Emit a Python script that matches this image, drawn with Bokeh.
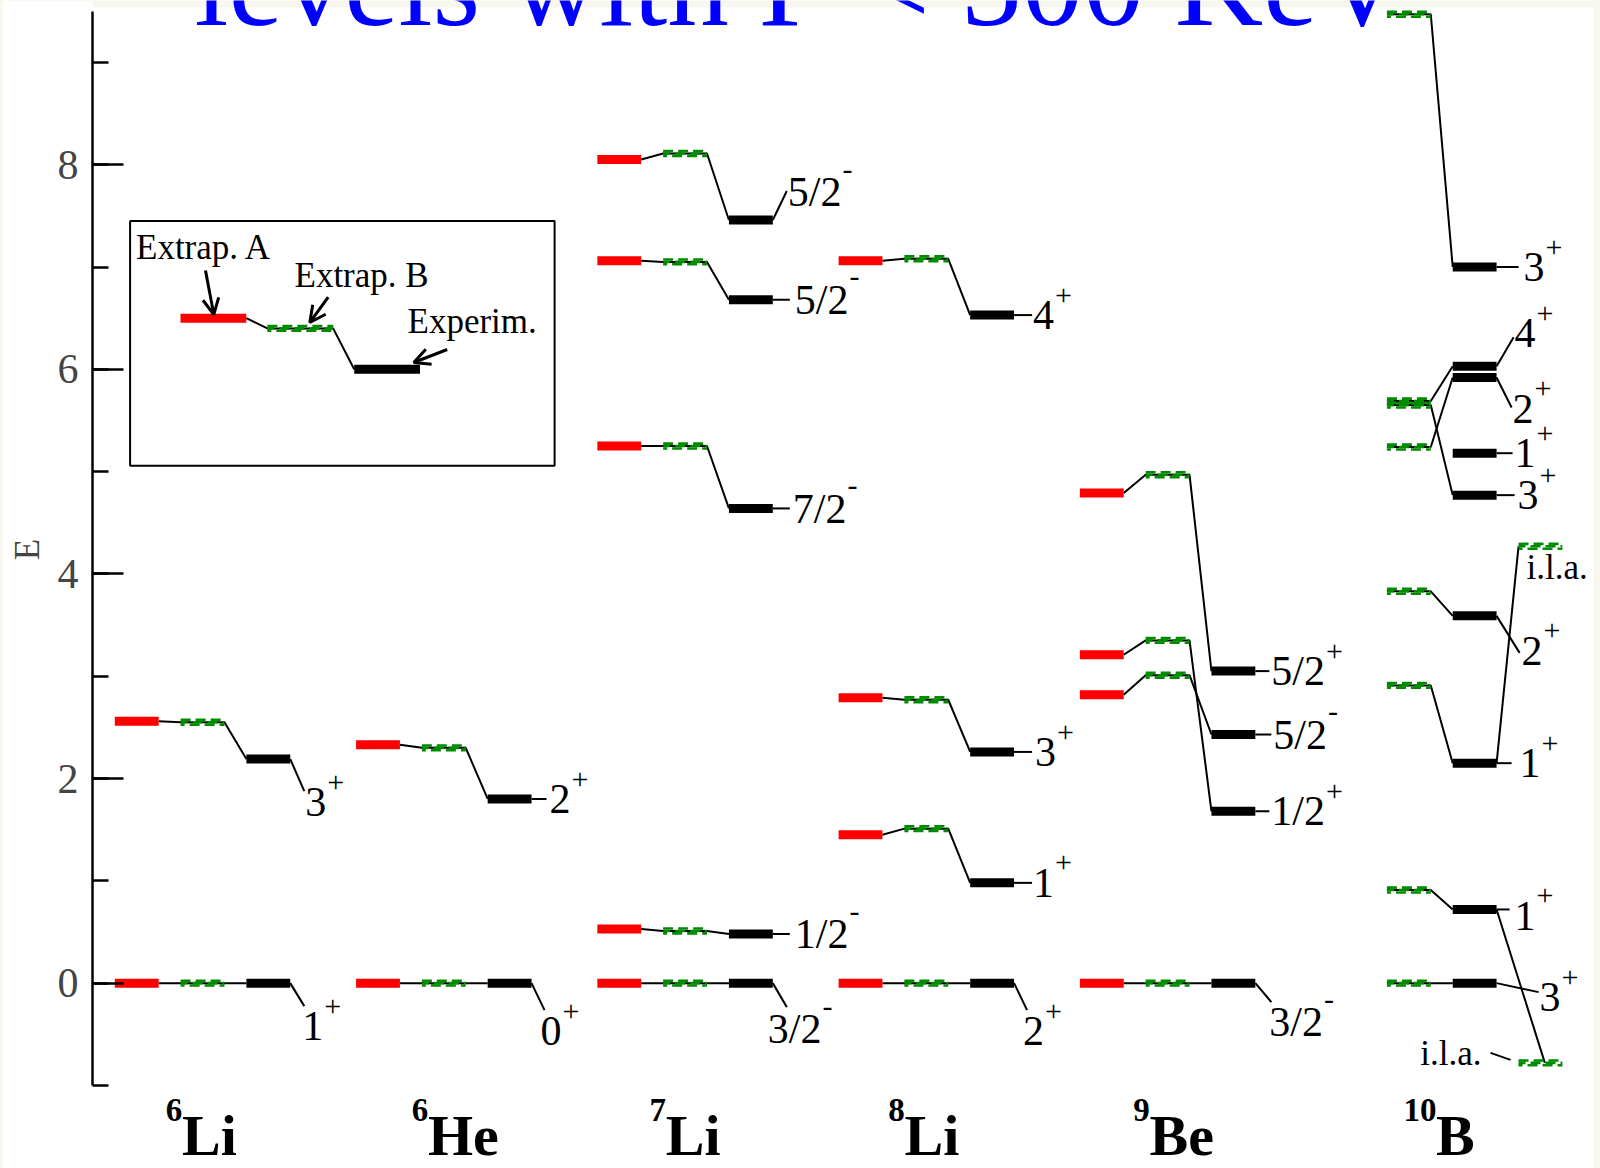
from bokeh.plotting import figure
from bokeh.models import Range1d, SingleIntervalTicker, Arrow, OpenHead
from bokeh.core.properties import value
from bokeh.layouts import column
from bokeh.embed import file_html
from bokeh.resources import INLINE

# ---------------- data (energies) ----------------
mass_numbers = ["6", "6", "7", "8", "9", "10"]
elements = ["Li", "He", "Li", "Li", "Be", "B"]

li6_extrap_a = [0.00, 2.56]
li6_extrap_b = [0.00, 2.55]
li6_exp = [0.00, 2.19]
li6_spin = ["1", "3"]
li6_parity = ["+", "+"]

he6_extrap_a = [0.00, 2.33]
he6_extrap_b = [0.00, 2.30]
he6_exp = [0.00, 1.80]
he6_spin = ["0", "2"]
he6_parity = ["+", "+"]

li7_extrap_a = [0.00, 0.53, 5.25, 7.06, 8.05]
li7_extrap_b = [0.00, 0.51, 5.25, 7.05, 8.11]
li7_exp = [0.00, 0.48, 4.64, 6.68, 7.46]
li7_spin = ["3/2", "1/2", "7/2", "5/2", "5/2"]
li7_parity = ["-", "-", "-", "-", "-"]

li8_extrap_a = [0.00, 1.45, 2.79, 7.06]
li8_extrap_b = [0.00, 1.51, 2.77, 7.08]
li8_exp = [0.00, 0.98, 2.26, 6.53]
li8_spin = ["2", "1", "3", "4"]
li8_parity = ["+", "+", "+", "+"]

be9_extrap_a = [0.00, 2.82, 3.21, 4.79]
be9_extrap_b = [0.00, 3.01, 3.35, 4.97]
be9_exp = [0.00, 2.43, 1.68, 3.05]
be9_spin = ["3/2", "5/2", "1/2", "5/2"]
be9_parity = ["-", "-", "+", "+"]

b10_extrap_a = [None, None, None, None, None, None, None, None, None]
b10_extrap_b = [0.00, 0.91, 2.91, 3.83, 5.69, 5.24, 5.65, 9.47, None]
b10_exp = [0.00, 0.72, 2.15, 3.59, 6.03, 5.92, 4.77, 7.00, 5.18]
b10_spin = ["3", "1", "1", "2", "4", "2", "3", "3", "1"]
b10_parity = ["+", "+", "+", "+", "+", "+", "+", "+", "+"]

b10_ila_energy = [4.27, -0.78]      # "i.l.a." levels (Extrap. B)
b10_ila_partner = [2, 1]            # experimental level each one is linked to
ila_text = "i.l.a."

title_text = "levels with \u0393 < 500 KeV"
y_label = "E"
legend_texts = ["Extrap. A", "Extrap. B", "Experim."]
legend_sample = [6.50, 6.40, 6.00]

# ---------------- layout / style ----------------
BEIGE = "#f7f7ef"
RED = "#ff0000"
GREEN = "#008b00"
BLACK = "#000000"
SERIF = "Liberation Serif"

MARGIN_LEFT = 2
LEFT = 90                      # left panel -> frame starts at page x = 92
PAGE_FRAME_LEFT = MARGIN_LEFT + LEFT
FIG_W, FIG_H = 1594 - MARGIN_LEFT, 1168
FRAME_W = FIG_W - LEFT
X0, X1 = -0.339, 22.488
Y0, Y1 = -1.812, 9.605
SX = FRAME_W / (X1 - X0)
SY = FIG_H / (Y1 - Y0)
BASE_FIX = 0.33                # em shift so that y is the alphabetic baseline


def du(px):
    return px / SX


def dE(px):
    return px / SY


def page_u(px):
    return X0 + (px - PAGE_FRAME_LEFT) / SX


def page_E(py):
    return Y1 - py / SY


def base(y, size):
    return y + dE(BASE_FIX * size)


COL = 11.0 / 3.0   # column step
STEP = 1.0         # slot step inside a column
W = 2.0 / 3.0      # bar width

# label connector/text offsets in px: (line dx, line dy(down+), text dx, text center dy(down+))
label_layouts = [
    [(14, 23, 12, 43), (14, 32, 15, 43)],
    [(13, 27, 9, 48), (15, 0, 18, 0)],
    [(14, 24, -5, 46), (17, 0, 22, 0), (17, 0, 20, 0), (17, 0, 22, 0), (14, -29, 15, -28)],
    [(13, 27, 9, 48), (18, 0, 19, 0), (18, 0, 21, 0), (18, 0, 19, 0)],
    [(16, 19, 14, 39), (16, 0, 18, 0), (14, 0, 16, 0), (14, 0, 16, 0)],
    [(42, 9, 43, 14), (13, 0, 18, 6), (15, 0, 23, 0), (23, 37, 25, 35), (17, -29, 18, -33),
     (15, 30, 16, 31), (18, 0, 21, 0), (22, 0, 27, 0), (16, 0, 18, 0)],
]
nucleus_label_offsets = [0.775, 0.845, 0.793, 0.754, 0.81, 1.252]
ila_link_end = [0.0, 0.4]
# ila text placement relative to bar left end (px): (text x, center dy, align)
ila_text_layout = [(8, 24, "left"), (-37, -7, "right")]
ila_dash = [None, (-28, -10, -8, -3)]

LABEL_PX = 42
SUP_PX = 30
SUP_RAISE = {"+": 24, "-": 27}


def text_width(s, size):
    return sum(0.5 if c.isdigit() else 0.278 for c in s) * size


nuclei_data = [
    (li6_extrap_a, li6_extrap_b, li6_exp, li6_spin, li6_parity),
    (he6_extrap_a, he6_extrap_b, he6_exp, he6_spin, he6_parity),
    (li7_extrap_a, li7_extrap_b, li7_exp, li7_spin, li7_parity),
    (li8_extrap_a, li8_extrap_b, li8_exp, li8_spin, li8_parity),
    (be9_extrap_a, be9_extrap_b, be9_exp, be9_spin, be9_parity),
    (b10_extrap_a, b10_extrap_b, b10_exp, b10_spin, b10_parity),
]

p = figure(width=FIG_W, height=FIG_H, x_range=Range1d(X0, X1), y_range=Range1d(Y0, Y1),
           output_backend="svg", toolbar_location=None, x_axis_location=None,
           y_axis_location="left", min_border=0, min_border_left=LEFT,
           background_fill_color="white", border_fill_color="white",
           outline_line_color=None)
p.margin = (0, 0, 0, MARGIN_LEFT)
p.grid.visible = False

ax = p.yaxis[0]
ax.ticker = SingleIntervalTicker(interval=2, num_minor_ticks=2)
ax.bounds = (-1, 9.5)
ax.axis_line_width = 2.5
ax.major_tick_line_width = 2.5
ax.minor_tick_line_width = 2.5
ax.major_tick_in = 31
ax.major_tick_out = 0
ax.minor_tick_in = 16
ax.minor_tick_out = 0
ax.major_label_text_font = SERIF
ax.major_label_text_font_size = "42px"
ax.major_label_standoff = 14
ax.axis_label = "\u00a0" * 8 + y_label
ax.axis_label_text_font = SERIF
ax.axis_label_text_font_size = "35px"
ax.axis_label_text_font_style = "normal"
ax.axis_label_standoff = 8

# top beige band (inside the frame)
p.quad(left=[X0], right=[X1], bottom=[page_E(7)], top=[Y1], fill_color=BEIGE, line_color=None)

red_x, red_y, blk_x, blk_y = [], [], [], []
grn_xs, grn_ys = [], []
con_xs, con_ys = [], []
lab_x, lab_y, lab_t = [], [], []
sup_x, sup_y, sup_t = [], [], []

for i, (ea, eb, ex, spin, par) in enumerate(nuclei_data):
    u0 = i * COL
    for k in range(len(ex)):
        a, b, x = ea[k], eb[k], ex[k]
        pts = []
        if a is not None:
            red_x.append(u0 + W / 2)
            red_y.append(a)
            pts.append((u0 + W, a))
        if b is not None:
            grn_xs.append([u0 + STEP, u0 + STEP + W])
            grn_ys.append(b)
            pts += [(u0 + STEP, b), (u0 + STEP + W, b)]
        blk_x.append(u0 + 2 * STEP + W / 2)
        blk_y.append(x)
        if pts:
            pts.append((u0 + 2 * STEP, x))
        if len(pts) > 1:
            con_xs.append([q[0] for q in pts])
            con_ys.append([q[1] for q in pts])
        # spin-parity label
        lx, ly, tx, ty = label_layouts[i][k]
        xe = u0 + 2 * STEP + W
        con_xs.append([xe, xe + du(lx)])
        con_ys.append([x, x - dE(ly)])
        bl = x - dE(ty) - dE(14)
        lab_x.append(xe + du(tx))
        lab_y.append(base(bl, LABEL_PX))
        lab_t.append(spin[k])
        sup_x.append(xe + du(tx) + du(text_width(spin[k], LABEL_PX) + 1))
        sup_y.append(base(bl + dE(SUP_RAISE[par[k]]), SUP_PX))
        sup_t.append(par[k])

# 10B "i.l.a." levels
u0 = 5 * COL
ila_tx, ila_ty, ila_tt, ila_align = [], [], [], []
for j, e in enumerate(b10_ila_energy):
    grn_xs.append([u0 + 3 * STEP, u0 + 3 * STEP + W])
    grn_ys.append(e)
    k = b10_ila_partner[j]
    con_xs.append([u0 + 2 * STEP + W, u0 + 3 * STEP + ila_link_end[j]])
    con_ys.append([b10_exp[k], e])
    tx, ty, al = ila_text_layout[j]
    ila_tx.append(u0 + 3 * STEP + du(tx))
    ila_ty.append(base(e - dE(ty) - dE(9), 35))
    ila_tt.append(ila_text)
    ila_align.append(al)
    if ila_dash[j] is not None:
        d = ila_dash[j]
        con_xs.append([u0 + 3 * STEP + du(d[0]), u0 + 3 * STEP + du(d[2])])
        con_ys.append([e - dE(d[1]), e - dE(d[3])])

# ---------------- inset legend ----------------
INSET_U0 = page_u(180)
INSET_STEP = 1.32
INSET_W = 1.0
p.quad(left=[page_u(129.6)], right=[page_u(554.1)], top=[page_E(220.4)], bottom=[page_E(465.3)],
       fill_color=None, line_color=BLACK, line_width=2)
la, lb, lx_ = legend_sample
con_xs.append([INSET_U0 + INSET_W, INSET_U0 + INSET_STEP, INSET_U0 + INSET_STEP + INSET_W,
               INSET_U0 + 2 * INSET_STEP])
con_ys.append([la, lb, lb, lx_])
grn_xs.append([INSET_U0 + INSET_STEP, INSET_U0 + INSET_STEP + INSET_W])
grn_ys.append(lb)

p.multi_line(xs=con_xs, ys=con_ys, line_color=BLACK, line_width=2)

# bars
p.rect(x=red_x, y=red_y, width=W, height=9, height_units="screen", fill_color=RED, line_color=None)
p.rect(x=blk_x, y=blk_y, width=W, height=9, height_units="screen", fill_color=BLACK, line_color=None)
p.rect(x=[INSET_U0 + INSET_W / 2], y=[la], width=INSET_W, height=9, height_units="screen",
       fill_color=RED, line_color=None)
p.rect(x=[INSET_U0 + 2 * INSET_STEP + INSET_W / 2], y=[lx_], width=INSET_W, height=9,
       height_units="screen", fill_color=BLACK, line_color=None)

# hatched green bars: three stacked dashed rows, phase-shifted to give slanted dashes
for row, off in ((1, 0), (0, 3), (-1, 6)):
    p.multi_line(xs=grn_xs, ys=[[e + row * dE(2.4)] * 2 for e in grn_ys], line_color=GREEN,
                 line_width=2.6, line_dash="10 5", line_dash_offset=off, line_cap="butt")

p.text(x=[page_u(135.5), page_u(294), page_u(407)],
       y=[base(page_E(258.3), 35), base(page_E(287), 35), base(page_E(333), 35)],
       text=legend_texts, text_font=value(SERIF), text_font_size="35px",
       text_align="left", text_baseline="alphabetic", text_color=BLACK)

arrow_tails = [(205, 270), (327.7, 296.7), (446.7, 349)]
arrow_tips = [(213.3, 314), (309.3, 322), (413.3, 362)]
for (tx_, ty_), (hx, hy) in zip(arrow_tails, arrow_tips):
    p.add_layout(Arrow(end=OpenHead(size=16, line_width=3, line_color=BLACK),
                       x_start=page_u(tx_), y_start=page_E(ty_),
                       x_end=page_u(hx), y_end=page_E(hy), line_width=3, line_color=BLACK))

# spin-parity labels
p.text(x=lab_x, y=lab_y, text=lab_t, text_font=value(SERIF), text_font_size=f"{LABEL_PX}px",
       text_align="left", text_baseline="alphabetic", text_color=BLACK)
p.text(x=sup_x, y=sup_y, text=sup_t, text_font=value(SERIF), text_font_size=f"{SUP_PX}px",
       text_align="left", text_baseline="alphabetic", text_color=BLACK)
p.text(x=ila_tx, y=ila_ty, text=ila_tt, text_font=value(SERIF), text_font_size="35px",
       text_align=ila_align, text_baseline="alphabetic", text_color=BLACK)

# nucleus names
nx_sup, nx_el = [], []
for i, m in enumerate(mass_numbers):
    s = i * COL + nucleus_label_offsets[i]
    nx_sup.append(s)
    nx_el.append(s + du(16.3 * len(m)))
p.text(x=nx_sup, y=[base(page_E(1120), 33)] * 6, text=mass_numbers, text_font=value(SERIF),
       text_font_size="33px", text_font_style="bold", text_align="left",
       text_baseline="alphabetic", text_color=BLACK)
p.text(x=nx_el, y=[base(page_E(1154), 58)] * 6, text=elements, text_font=value(SERIF),
       text_font_size="58px", text_font_style="bold", text_align="left",
       text_baseline="alphabetic", text_color=BLACK)

# title (cut by the top of the page)
p.text(x=[page_u(194)], y=[base(page_E(23.5), 122.5)], text=[title_text], text_font=value(SERIF),
       text_font_size="122.5px", text_align="left", text_baseline="alphabetic",
       text_color="#0000ff")

root = column(p, width=1600, height=1168, styles={"background-color": BEIGE})

open("out.html", "w").write(file_html(root, INLINE))
